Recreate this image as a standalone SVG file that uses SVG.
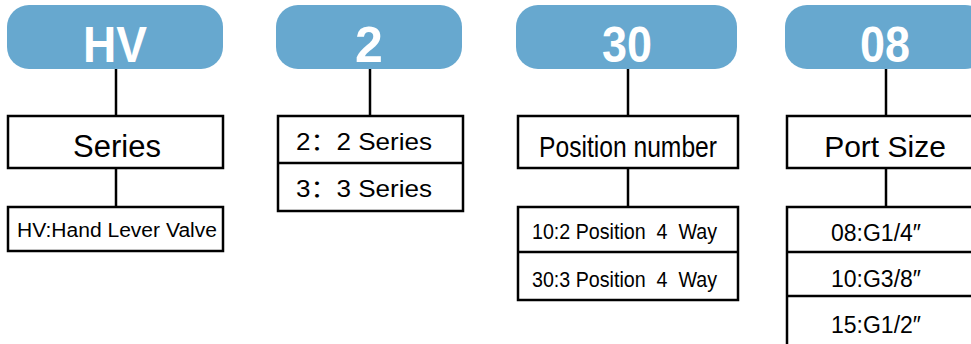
<svg xmlns="http://www.w3.org/2000/svg" width="971" height="344" viewBox="0 0 971 344">
<style>
.pill{fill:#67a8cf}
.pt{font-family:"Liberation Sans",Arial,sans-serif;font-weight:bold;fill:#fff;font-size:50px;text-anchor:middle}
.box{fill:#fff;stroke:#000;stroke-width:2.5}
.ln{stroke:#000;stroke-width:2.5;fill:none}
.t{font-family:"Liberation Sans","Noto Sans CJK SC",Arial,sans-serif;fill:#000;white-space:pre}
.c{text-anchor:middle}
</style>
<rect width="971" height="344" fill="#fff"/>
<g id="connectors">
<line class="ln" x1="116" y1="69" x2="116" y2="116"/>
<line class="ln" x1="116" y1="168" x2="116" y2="207"/>
<line class="ln" x1="370" y1="69" x2="370" y2="116"/>
<line class="ln" x1="628" y1="69" x2="628" y2="116"/>
<line class="ln" x1="628" y1="168" x2="628" y2="207"/>
<line class="ln" x1="886" y1="69" x2="886" y2="116"/>
<line class="ln" x1="886" y1="168" x2="886" y2="207"/>
</g>
<g id="pill-hv">
<rect class="pill" x="7" y="5" width="216" height="64" rx="22"/>
<text class="pt" x="115" y="62" textLength="64" lengthAdjust="spacingAndGlyphs">HV</text>
</g>
<g id="series">
<rect class="box" x="8" y="116" width="215" height="52"/>
<text class="t c" x="117" y="157" font-size="31">Series</text>
</g>
<g id="hv-desc">
<rect class="box" x="8" y="207" width="215" height="44"/>
<text class="t" x="17" y="237" font-size="20" textLength="200" lengthAdjust="spacingAndGlyphs">HV:Hand Lever Valve</text>
</g>
<g id="pill-2">
<rect class="pill" x="276" y="5" width="186" height="64" rx="22"/>
<text class="pt" x="369" y="62">2</text>
</g>
<g id="series-opts">
<rect class="box" x="278" y="116" width="185" height="95"/>
<line class="ln" x1="278" y1="163" x2="463" y2="163"/>
<text class="t" x="296" y="150" font-size="24" textLength="136" lengthAdjust="spacingAndGlyphs">2：2 Series</text>
<text class="t" x="296" y="197" font-size="24" textLength="136" lengthAdjust="spacingAndGlyphs">3：3 Series</text>
</g>
<g id="pill-30">
<rect class="pill" x="516" y="5" width="221" height="64" rx="22"/>
<text class="pt" x="627" y="62" textLength="50" lengthAdjust="spacingAndGlyphs">30</text>
</g>
<g id="position">
<rect class="box" x="518" y="116" width="220" height="52"/>
<text class="t" x="539" y="157" font-size="29" textLength="178" lengthAdjust="spacingAndGlyphs">Position number</text>
</g>
<g id="position-opts">
<rect class="box" x="518" y="207" width="220" height="93"/>
<line class="ln" x1="518" y1="252" x2="738" y2="252"/>
<text class="t" x="532" y="239" font-size="22" textLength="185" lengthAdjust="spacingAndGlyphs" xml:space="preserve">10:2 Position  4  Way</text>
<text class="t" x="532" y="287" font-size="22" textLength="185" lengthAdjust="spacingAndGlyphs" xml:space="preserve">30:3 Position  4  Way</text>
</g>
<g id="pill-08">
<rect class="pill" x="785" y="5" width="202" height="64" rx="22"/>
<text class="pt" x="885" y="62" textLength="50" lengthAdjust="spacingAndGlyphs">08</text>
</g>
<g id="port">
<rect class="box" x="787" y="116" width="198" height="52"/>
<text class="t c" x="885" y="157" font-size="30">Port Size</text>
</g>
<g id="port-opts">
<rect class="box" x="787" y="207" width="198" height="150"/>
<line class="ln" x1="787" y1="252" x2="985" y2="252"/>
<line class="ln" x1="787" y1="296" x2="985" y2="296"/>
<text class="t" x="831" y="241" font-size="23">08:G1/4″</text>
<text class="t" x="831" y="287" font-size="23">10:G3/8″</text>
<text class="t" x="831" y="333" font-size="23">15:G1/2″</text>
</g>
</svg>
